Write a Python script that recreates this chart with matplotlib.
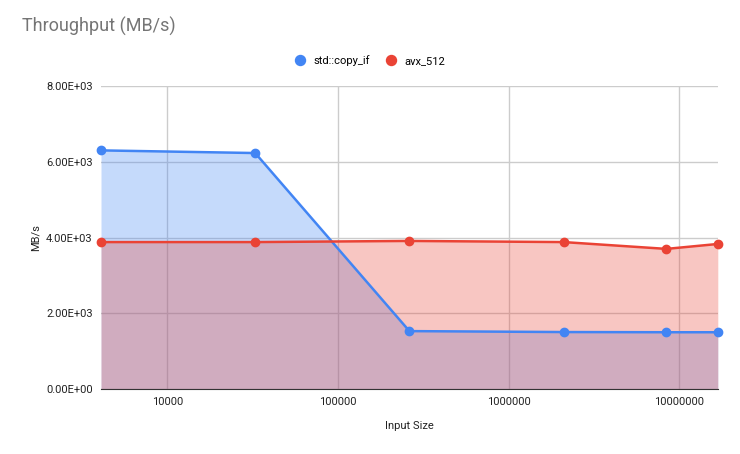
import matplotlib
matplotlib.use("Agg")
import matplotlib.pyplot as plt
from matplotlib.ticker import FixedLocator, FuncFormatter, NullLocator

sizes = [4096, 32768, 262144, 2097152, 8388608, 16777216]
std_copy_if = [6300, 6230, 1530, 1505, 1500, 1500]
avx_512 = [3880, 3880, 3910, 3880, 3700, 3830]

plt.rcParams['font.family'] = ['Roboto', 'DejaVu Sans']
fig = plt.figure(figsize=(7.4, 4.54), dpi=100)
ax = fig.add_axes([0.1365, 0.143, 0.8335, 0.6676])
blue, red = '#4285f4', '#ea4335'
ax.fill_between(sizes, std_copy_if, color=blue, alpha=0.3, lw=0)
ax.fill_between(sizes, avx_512, color=red, alpha=0.3, lw=0)
ax.plot(sizes, std_copy_if, color=blue, lw=1.8, marker='o', ms=6, label='std::copy_if', clip_on=False)
ax.plot(sizes, avx_512, color=red, lw=1.8, marker='o', ms=6, label='avx_512', clip_on=False)
ax.set_xscale('log')
ax.set_xlim(sizes[0], sizes[-1])
ax.set_ylim(0, 8000)
ax.xaxis.set_major_locator(FixedLocator([1e4, 1e5, 1e6, 1e7]))
ax.xaxis.set_minor_locator(NullLocator())
ax.xaxis.set_major_formatter(FuncFormatter(lambda v, p: f"{int(round(v))}"))
ax.set_yticks([0, 2000, 4000, 6000, 8000])
ax.yaxis.set_major_formatter(FuncFormatter(lambda v, p: f"{v:.2E}".replace("E+0", "E+0")))
ax.grid(True, color='#cccccc', lw=1)
ax.set_axisbelow(True)
for s in ['top', 'right', 'left']:
    ax.spines[s].set_visible(False)
ax.spines['bottom'].set_color('#333333')
ax.tick_params(length=0, labelsize=8, colors='#222222', pad=6)
ax.set_xlabel('Input Size', fontsize=8, color='#222222', labelpad=10)
ax.set_ylabel('MB/s', fontsize=8, color='#222222')
fig.text(0.03, 0.93, 'Throughput (MB/s)', fontsize=13, color='#757575')
fig.legend(loc='center', bbox_to_anchor=(0.5, 0.867), ncol=2, frameon=False, fontsize=8,
           handlelength=0.8, markerscale=1.2, columnspacing=1.5,
           handler_map=None)
leg = fig.legends[0]
for h in leg.get_lines():
    h.set_linestyle('none')
fig.savefig('out.png', dpi=100)
